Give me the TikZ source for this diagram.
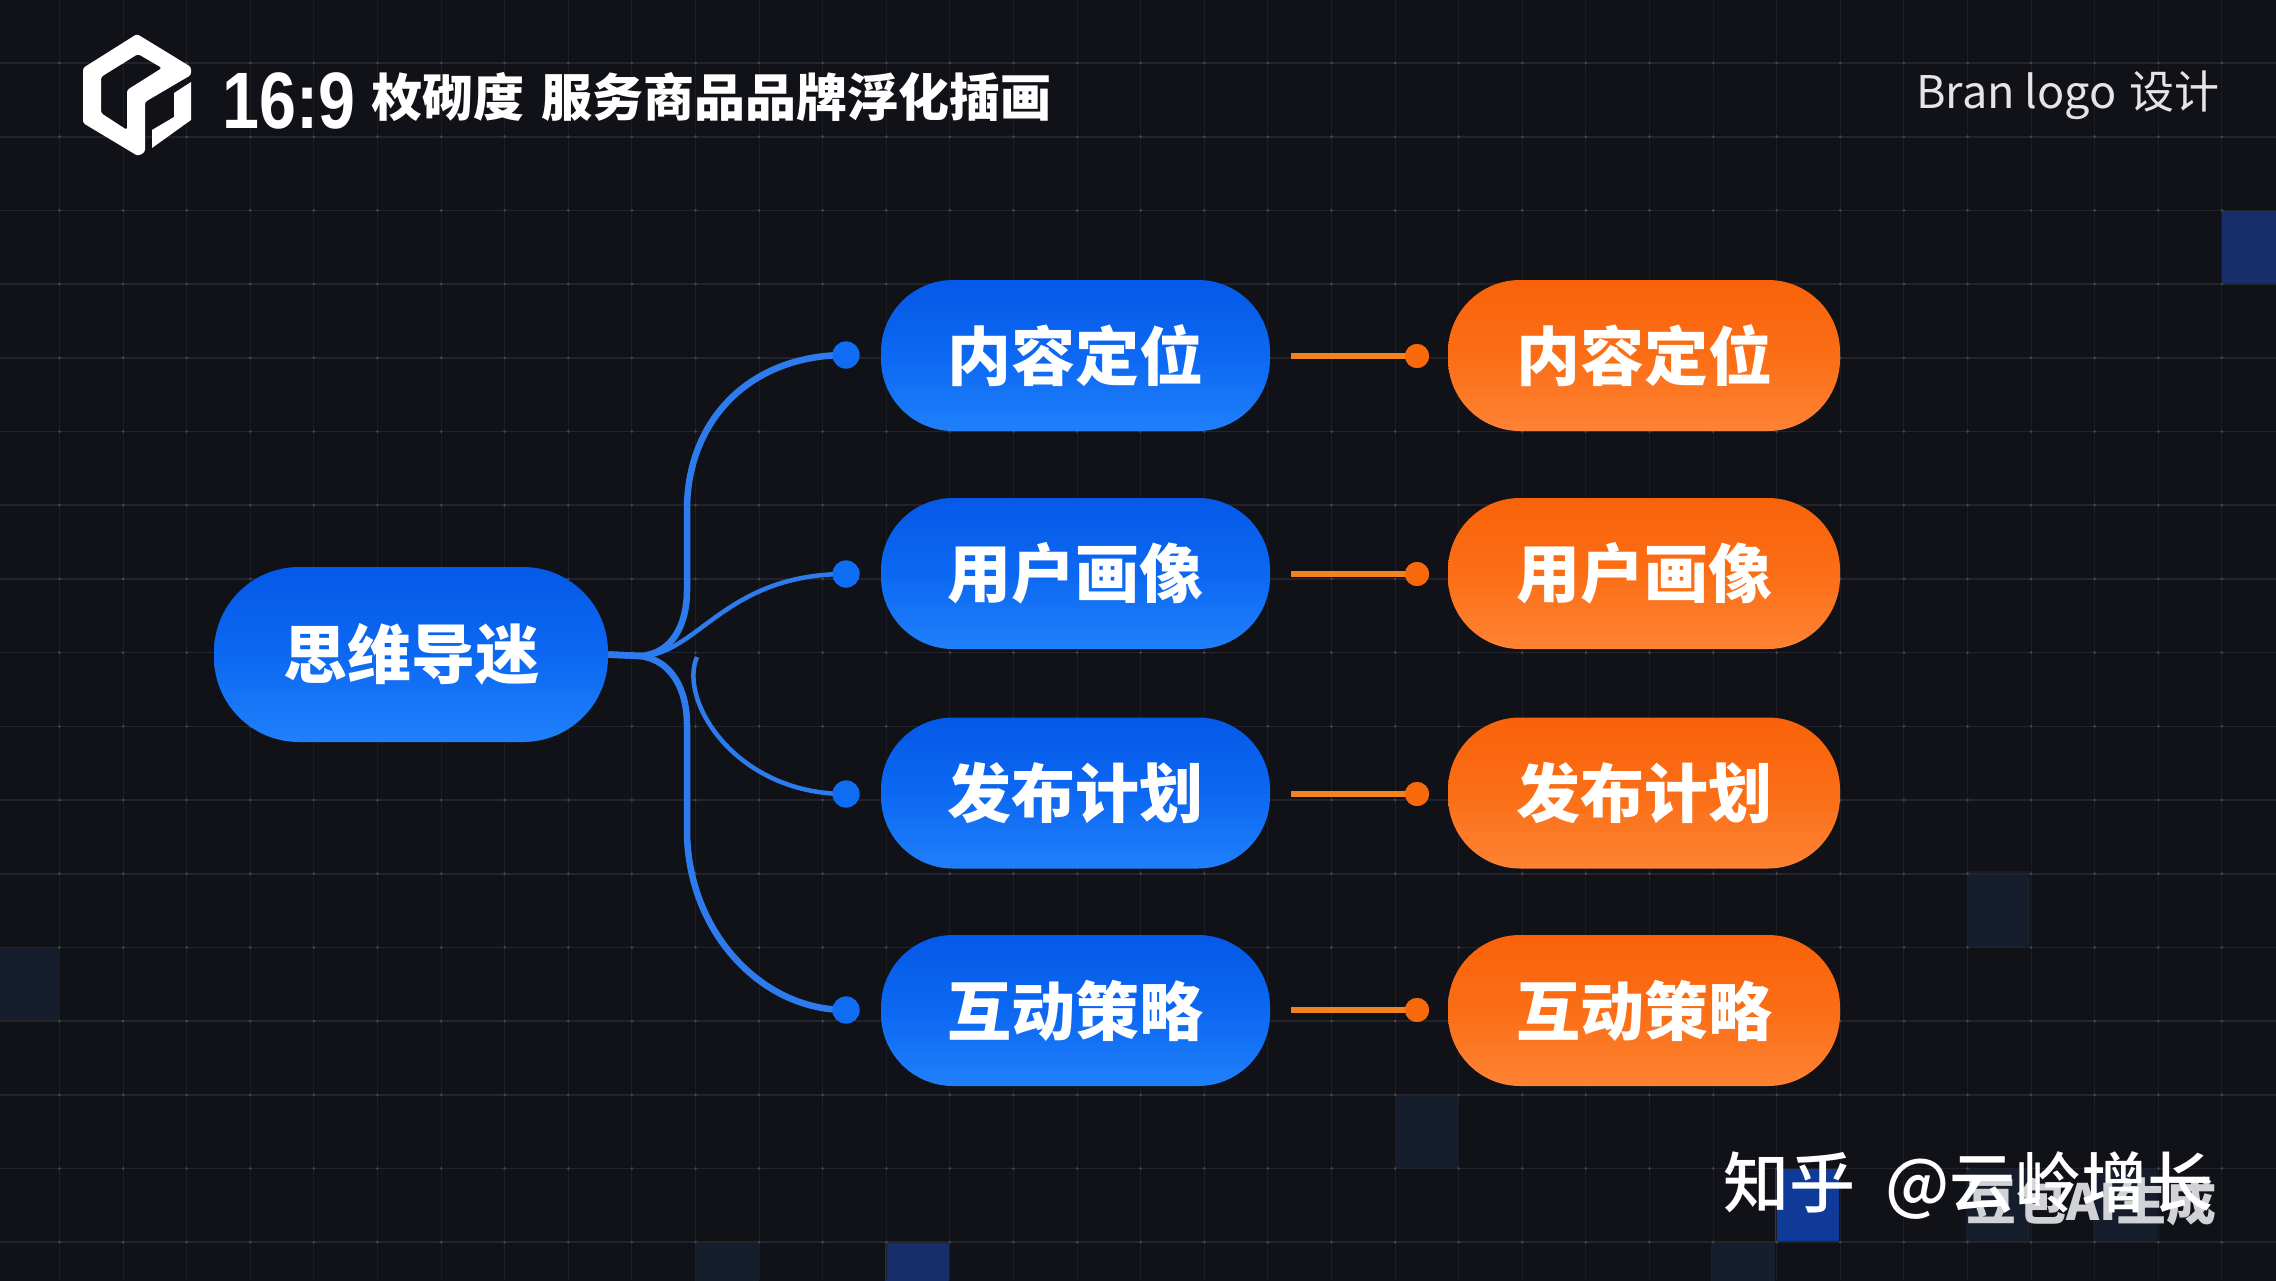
\documentclass[tikz,border=0pt]{standalone}
\usepackage{fontspec}
\setmainfont{Noto Sans CJK SC}
\newfontfamily\latinb{Liberation Sans}
\newfontfamily\cjkm{Noto Sans CJK SC Medium}
\definecolor{bgc}{HTML}{111218}
\definecolor{gridv}{HTML}{1D1E25}
\definecolor{gridh}{HTML}{23242B}
\definecolor{gridp}{HTML}{44464C}
\definecolor{bluetop}{HTML}{0559E8}
\definecolor{bluemid}{HTML}{0C68F2}
\definecolor{bluebot}{HTML}{2080FA}
\definecolor{orgtop}{HTML}{F8620A}
\definecolor{orgmid}{HTML}{FB6E16}
\definecolor{orgbot}{HTML}{FE8334}
\definecolor{blueline}{HTML}{2E7BEE}
\definecolor{bluedot}{HTML}{0F6DF4}
\definecolor{orgline}{HTML}{F2831F}
\definecolor{orgdot}{HTML}{F8690C}
\definecolor{cellfaint}{HTML}{161D2C}
\definecolor{cellmid}{HTML}{172E68}
\definecolor{cellbright}{HTML}{0F3A98}
\tikzset{
  pillblue/.style={rectangle,rounded corners=72pt,minimum width=389pt,minimum height=151pt,inner sep=0pt,
    top color=bluetop,bottom color=bluebot,middle color=bluemid,text=white,font=\fontsize{64}{64}\selectfont\bfseries},
  pillorange/.style={rectangle,rounded corners=72pt,minimum width=392pt,minimum height=151pt,inner sep=0pt,
    top color=orgtop,bottom color=orgbot,middle color=orgmid,text=white,font=\fontsize{64}{64}\selectfont\bfseries},
  dotblue/.style={circle,fill=bluedot,minimum size=27pt,inner sep=0pt},
  dotorange/.style={circle,fill=orgdot,minimum size=24pt,inner sep=0pt},
  linkblue/.style={draw=blueline,line width=6.5pt},
  linkorange/.style={draw=orgline,line width=6pt},
  titletext/.style={text=white,inner sep=0pt,anchor=base west,font=\fontsize{51}{51}\selectfont\bfseries}
}
\begin{document}
\begin{tikzpicture}[x=1pt,y=-1pt]
\useasboundingbox (0,0) rectangle (2276,1280);
\fill[bgc] (-3,-3) rectangle (2279,1283);
% tinted cells
\fill[cellmid] (2221,211) rectangle (2279,284);
\fill[cellfaint] (1967,871) rectangle (2030,947);
\fill[cellfaint] (-3,947) rectangle (59,1021);
\fill[cellfaint] (1395,1095) rectangle (1459,1168);
\fill[cellbright] (1775,1168) rectangle (1839,1242);
\fill[cellfaint] (1966,1168) rectangle (2030,1242);
\fill[cellfaint] (2093,1168) rectangle (2157,1242);
\fill[cellmid] (885,1242) rectangle (949,1283);
\fill[cellfaint] (695,1242) rectangle (759,1283);
\fill[cellfaint] (1711,1242) rectangle (1775,1283);
% grid
\foreach \k in {0,...,35}{
  \pgfmathsetmacro{\gx}{59.5+63.6*\k}
  \draw[gridv,line width=1pt] (\gx,0) -- (\gx,1280);
}
\foreach \k in {0,...,16}{
  \pgfmathsetmacro{\gy}{63+73.7*\k}
  \draw[gridh,line width=1.6pt] (0,\gy) -- (2276,\gy);
}
\foreach \k in {0,...,35}{
  \foreach \j in {0,...,16}{
    \pgfmathsetmacro{\gx}{59.5+63.6*\k}
    \pgfmathsetmacro{\gy}{63+73.7*\j}
    \fill[gridp] (\gx,\gy) circle[radius=1.5pt];
  }
}
% logo
\fill[white,even odd rule,rounded corners=2.5pt]
  (137,34) -- (191,67) -- (191,75) -- (145,102) -- (145,152) -- (138,156) -- (83,123) -- (83,68) -- cycle
  (138,54) -- (162,68) -- (127,90) -- (127,130) -- (101,113) -- (101,77) -- cycle;
\fill[white] (191,82) -- (191,120) -- (152,148) -- (152,130) -- (174,117) -- (174,93) -- cycle;
% header text
\node[text=white,inner sep=0pt,anchor=base west] (ratio) at (222,128)
  {\scalebox{.83}[1]{\latinb\bfseries\fontsize{80}{80}\selectfont 16:9}};
\node[titletext] (titlea) at (371,116) {枚砌度};
\node[titletext] (titleb) at (541,116) {服务商品品牌浮化插画};
\node[text=white!90!black,inner sep=0pt,anchor=base west,font=\fontsize{45}{45}\selectfont] (brand) at (1916,108)
  {Bran logo\hspace{13pt}\fontsize{45}{45}\selectfont 设计};
% pills
\node[pillblue,minimum width=394pt,minimum height=175pt,rounded corners=85pt] (root) at (411,654.5) {思维导迷};
\node[pillblue] (b1) at (1075.5,355.5) {内容定位};
\node[pillblue] (b2) at (1075.5,573.5) {用户画像};
\node[pillblue] (b3) at (1075.5,793) {发布计划};
\node[pillblue] (b4) at (1075.5,1010.5) {互动策略};
\node[pillorange] (o1) at (1644,355.5) {内容定位};
\node[pillorange] (o2) at (1644,573.5) {用户画像};
\node[pillorange] (o3) at (1644,793) {发布计划};
\node[pillorange] (o4) at (1644,1010.5) {互动策略};
% dots
\node[dotblue] (d1) at (846,355) {};
\node[dotblue] (d2) at (846,574) {};
\node[dotblue] (d3) at (846,794) {};
\node[dotblue] (d4) at (846,1010) {};
\node[dotorange] (p1) at (1417,356) {};
\node[dotorange] (p2) at (1417,574) {};
\node[dotorange] (p3) at (1417,794) {};
\node[dotorange] (p4) at (1417,1010) {};
\coordinate (s1) at (1291,356);
\coordinate (s2) at (1291,574);
\coordinate (s3) at (1291,794);
\coordinate (s4) at (1291,1010);
\coordinate (fork) at (697,657);
% connectors
\draw[linkblue] (root.east) -- (640,656) .. controls (672,654) and (687,625) .. (687,590) -- (687,510) .. controls (687,420) and (750,355) .. (d1.center);
\draw[linkblue,line width=4.5pt] (root.east) -- (645,656) .. controls (700,650) and (728,574) .. (d2.center);
\draw[linkblue,line width=4.5pt] (fork) .. controls (678,700) and (735,794) .. (d3.center);
\draw[linkblue] (root.east) -- (640,656) .. controls (672,660) and (687,690) .. (687,725) -- (687,830) .. controls (687,930) and (760,1010) .. (d4.center);
\foreach \i in {1,2,3,4}{
  \draw[linkorange] (s\i) -- (p\i.center);
  \node[dotorange] at (p\i) {};
  \node[dotblue] at (d\i) {};
}
% watermark
\node[text=white!80!cellfaint,inner sep=0pt,anchor=base west,font=\fontsize{50}{50}\selectfont\bfseries] (mark) at (1966,1220) {豆包AI生成};
\node[text=white,inner sep=0pt,anchor=base west,font=\fontsize{66}{66}\selectfont\cjkm] (zhihu) at (1723,1207) {知乎\hspace{30pt}@云岭增长};
\end{tikzpicture}
\end{document}
